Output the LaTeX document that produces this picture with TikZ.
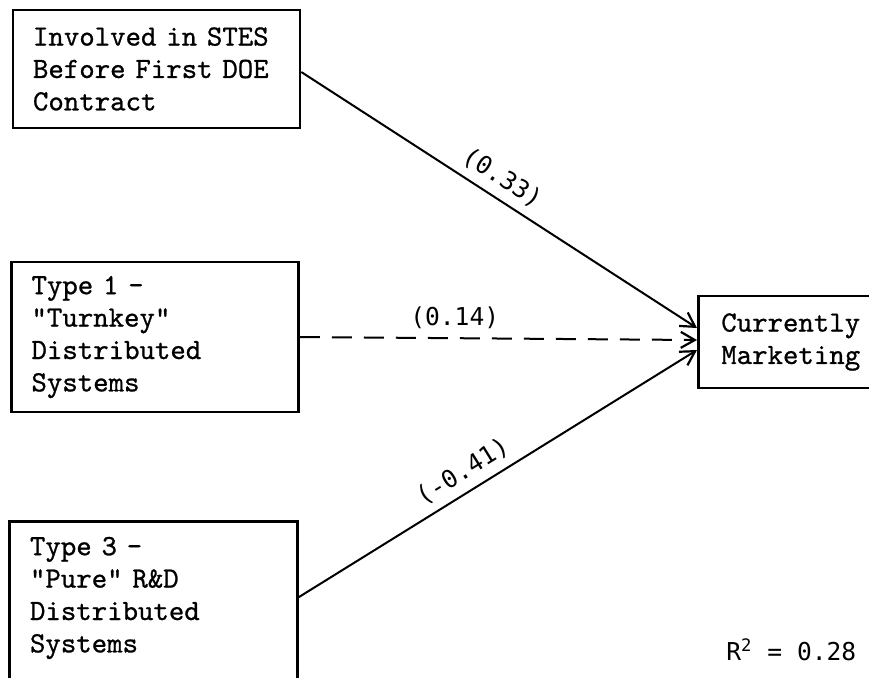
\documentclass[tikz,border=0pt]{standalone}
\usepackage{fontspec}
\newfontfamily\labfont{DejaVu Sans Mono}
\newfontfamily\boxfont{lmmono10-regular.otf}[FakeBold=0.8]
\usetikzlibrary{arrows.meta,calc}
\begin{document}
\begin{tikzpicture}[x=0.5pt,y=-0.5pt,
  boxtext/.style={font=\boxfont\fontsize{14.7}{16.2}\selectfont, align=left, inner ysep=0pt},
  varbox/.style={boxtext, draw, line width=1.3pt, text width=123.5pt, inner xsep=10pt},
  conn/.style={line width=1pt, -{Straight Barb[length=7pt,width=8pt,line width=1.1pt]}},
  lab/.style={font=\labfont\fontsize{12.3}{14}\selectfont, inner sep=2pt}]
\useasboundingbox (0,0) rectangle (869,677);
\clip (0,0) rectangle (869,677);

% predictor boxes
\node[varbox, minimum width=143.5pt, minimum height=59pt] (b1) at (156.5,69)
  {Involved in STES\\Before First DOE\\Contract};
\node[varbox, minimum width=143pt, minimum height=75pt] (b2) at (155,337)
  {Type 1 -\\"Turnkey"\\Distributed\\Systems};
\node[boxtext, text width=123.5pt, inner xsep=10pt, minimum width=143.5pt, minimum height=76pt] (b3) at (153.5,598)
  {Type 3 -\\"Pure" R\&D\\Distributed\\Systems};
\draw[line width=1.3pt] ([yshift=-20pt]b3.south west) -- (b3.north west)
  -- (b3.north east) -- ([yshift=-20pt]b3.south east);

% outcome box
\node[varbox, anchor=west, text width=100pt, inner xsep=11.5pt, minimum height=46pt] (tgt) at (697,342)
  {Currently\\Marketing};

% paths with coefficients
\draw[conn] ($(b1.east)+(0,3)$) -- node[lab, sloped, above, pos=0.48, yshift=2pt] {(0.33)} ($(tgt.west)+(0,-14)$);
\draw[conn, dash pattern=on 10pt off 6pt] (b2.east) -- node[lab, above, pos=0.39, yshift=2pt] {(0.14)} ($(tgt.west)+(0,-2)$);
\draw[conn] (b3.east) -- node[lab, sloped, above, pos=0.44, yshift=2pt] {(-0.41)} ($(tgt.west)+(0,8)$);

% explained variance
\node[lab, anchor=base west] (r2) at (722,660) {R\textsuperscript{2} = 0.28};
\end{tikzpicture}
\end{document}
